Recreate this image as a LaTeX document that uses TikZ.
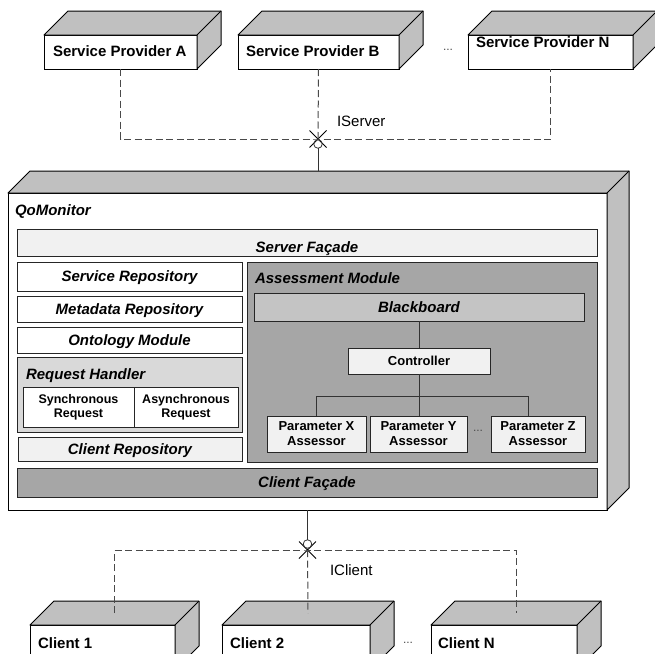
\documentclass[tikz,border=0pt]{standalone}
\usepackage{fontspec}
\setmainfont{Liberation Sans}
\usetikzlibrary{shapes.misc}
\definecolor{facegray}{HTML}{C0C0C0}
\definecolor{lightfill}{HTML}{F1F1F1}
\definecolor{midfill}{HTML}{D9D9D9}
\definecolor{darkfill}{HTML}{A6A6A6}
\definecolor{boardfill}{HTML}{C4C4C4}
\definecolor{dashgray}{HTML}{4A4A4A}
\tikzset{
  every node/.style={inner sep=0pt, outer sep=0pt},
  front/.style={draw=black, line width=1pt, fill=white, anchor=north west},
  face/.style={draw=black, line width=1pt, fill=facegray, line join=round},
  inbox/.style={draw=black!85, line width=1pt, anchor=north west, fill=white},
  lbl/.style={font=\fontsize{15}{17}\selectfont\bfseries},
  ilbl/.style={font=\fontsize{15}{17}\selectfont\bfseries\itshape},
  ctext/.style={text height=10.7pt, text depth=0pt},
  slbl/.style={font=\fontsize{13}{15}\selectfont\bfseries, align=center},
  sylbl/.style={font=\fontsize{12.5}{14}\selectfont\bfseries, align=center},
  plain/.style={font=\fontsize{15}{17}\selectfont},
  dotlbl/.style={font=\fontsize{12}{14}\selectfont, text=black!70},
  dep/.style={draw=dashgray, line width=1pt, dash pattern=on 7pt off 3.5pt},
  conn/.style={draw=black!80, line width=1pt},
  xmark/.style={draw=black, cross out, minimum size=17pt, line width=1pt},
  omark/.style={draw=black!80, circle, minimum size=8.5pt, line width=0.8pt},
}
\newcommand\boxfaces[2]{%
  \draw[face] (#1.north west) -- ([shift={(#2,-#2)}]#1.north west)
    -- ([shift={(#2,-#2)}]#1.north east) -- ([shift={(#2,-#2)}]#1.south east)
    -- (#1.south east) -- (#1.north east) -- cycle;
  \draw[face] (#1.north east) -- ([shift={(#2,-#2)}]#1.north east);}
\begin{document}
\begin{tikzpicture}[x=1pt,y=-1pt]
\clip (0,0) rectangle (655,653);

% ---------- service providers ----------
\node[front, minimum width=153pt, minimum height=34pt] (spa) at (44,35) {};
\node[front, minimum width=161pt, minimum height=34pt] (spb) at (238,35) {};
\node[front, minimum width=165pt, minimum height=34pt] (spn) at (468,35) {};
\boxfaces{spa}{24}
\boxfaces{spb}{24}
\boxfaces{spn}{24}
\node[lbl, anchor=base west] (spat) at (53,56) {Service Provider A};
\node[lbl, anchor=base west] (spbt) at (246,56) {Service Provider B};
\node[lbl, anchor=base west] (spnt) at (476,47) {Service Provider N};
\node[dotlbl] (dtop) at (448,50) {...};

% ---------- QoMonitor ----------
\node[front, minimum width=599pt, minimum height=317pt] (qom) at (8,193) {};
\boxfaces{qom}{22}
\coordinate (qtb) at ([shift={(22,-22)}]qom.north west);
\node[ilbl, anchor=base west] (qomt) at (15,215) {QoMonitor};

% Server facade
\node[inbox, fill=lightfill, minimum width=580pt, minimum height=27pt] (sf) at (17,229) {};
\node[ilbl, anchor=base] (sft) at (307,252) {Server Façade};

% left column
\node[inbox, minimum width=225pt, minimum height=29pt, ilbl, ctext] (sr) at (17,262) {Service Repository};
\node[inbox, minimum width=225pt, minimum height=26pt, ilbl, ctext] (mr) at (17,296) {Metadata Repository};
\node[inbox, minimum width=225pt, minimum height=26pt, ilbl, ctext] (om) at (17,327) {Ontology Module};
\node[inbox, fill=midfill, minimum width=225pt, minimum height=75pt] (rh) at (17,357) {};
\node[ilbl, anchor=base west] (rht) at (26,379) {Request Handler};
\node[inbox, minimum width=111pt, minimum height=40pt, sylbl] (syn) at (23,387) {Synchronous\\Request};
\node[inbox, minimum width=104pt, minimum height=40pt, sylbl] (asy) at (134,387) {Asynchronous\\Request};
\node[inbox, fill=lightfill, minimum width=224pt, minimum height=24pt, ilbl, ctext] (cr) at (18,437) {Client Repository};

% assessment module
\node[inbox, fill=darkfill, minimum width=350pt, minimum height=200pt] (am) at (247,262) {};
\node[ilbl, anchor=base west] (amt) at (255,283) {Assessment Module};
\node[inbox, fill=boardfill, minimum width=330pt, minimum height=28pt, ilbl, ctext] (bb) at (254,293) {Blackboard};
\node[inbox, fill=lightfill, minimum width=142pt, minimum height=26pt, slbl, text height=9.3pt, text depth=0pt] (ctl) at (348,348) {Controller};
\node[inbox, fill=lightfill, minimum width=99pt, minimum height=36pt, slbl] (px) at (267,416) {Parameter X\\Assessor};
\node[inbox, fill=lightfill, minimum width=97pt, minimum height=36pt, slbl] (py) at (370,416) {Parameter Y\\Assessor};
\node[inbox, fill=lightfill, minimum width=94pt, minimum height=36pt, slbl] (pz) at (491,416) {Parameter Z\\Assessor};
\node[dotlbl] (dpar) at (478,431) {...};

\coordinate (bus) at (419,396);
\coordinate (zdrop) at (528,396);
\draw[conn] (bb.south -| ctl.north) -- (ctl.north);
\draw[conn] (ctl.south) -- (bus);
\draw[conn] (px.north) |- (zdrop) -- (zdrop |- pz.north);
\draw[conn] (bus) -- (bus |- py.north);

% Client facade
\node[inbox, fill=darkfill, minimum width=580pt, minimum height=29pt, ilbl, ctext] (cf) at (17,468) {Client Façade};

% ---------- IServer interface ----------
\node[xmark] (xs) at (318,139) {};
\node[omark] (os) at (318,144) {};
\draw[dep] (spa.south) |- (xs.center) -| (spn.south);
\draw[dep] (spb.south) -- (xs.center);
\draw[conn] (os.south) -- (os.south |- qtb);
\node[plain, anchor=base west] (isv) at (337,126) {IServer};

% ---------- clients ----------
\node[front, minimum width=145pt, minimum height=45pt] (c1) at (30,625) {};
\node[front, minimum width=148pt, minimum height=45pt] (c2) at (222,625) {};
\node[front, minimum width=146pt, minimum height=45pt] (cn) at (431,625) {};
\boxfaces{c1}{24}
\boxfaces{c2}{24}
\boxfaces{cn}{24}
\coordinate (c1top) at ([shift={(12,-12)}]c1.north);
\coordinate (c2top) at ([shift={(12,-12)}]c2.north);
\coordinate (cntop) at ([shift={(12,-12)}]cn.north);
\node[lbl, anchor=base west] (c1t) at (38,648) {Client 1};
\node[lbl, anchor=base west] (c2t) at (230,648) {Client 2};
\node[lbl, anchor=base west] (cnt) at (438,648) {Client N};
\node[dotlbl] (dbot) at (408,643) {...};

% ---------- IClient interface ----------
\node[xmark] (xc) at (307.5,550) {};
\node[omark] (oc) at (307.5,544) {};
\draw[conn] (qom.south) -- (oc.north);
\draw[dep] (c1top) |- (xc.center) -| (cntop);
\draw[dep] (xc.center) -- (c2top);
\node[plain, anchor=base west] (icl) at (330,575) {IClient};
\end{tikzpicture}
\end{document}
